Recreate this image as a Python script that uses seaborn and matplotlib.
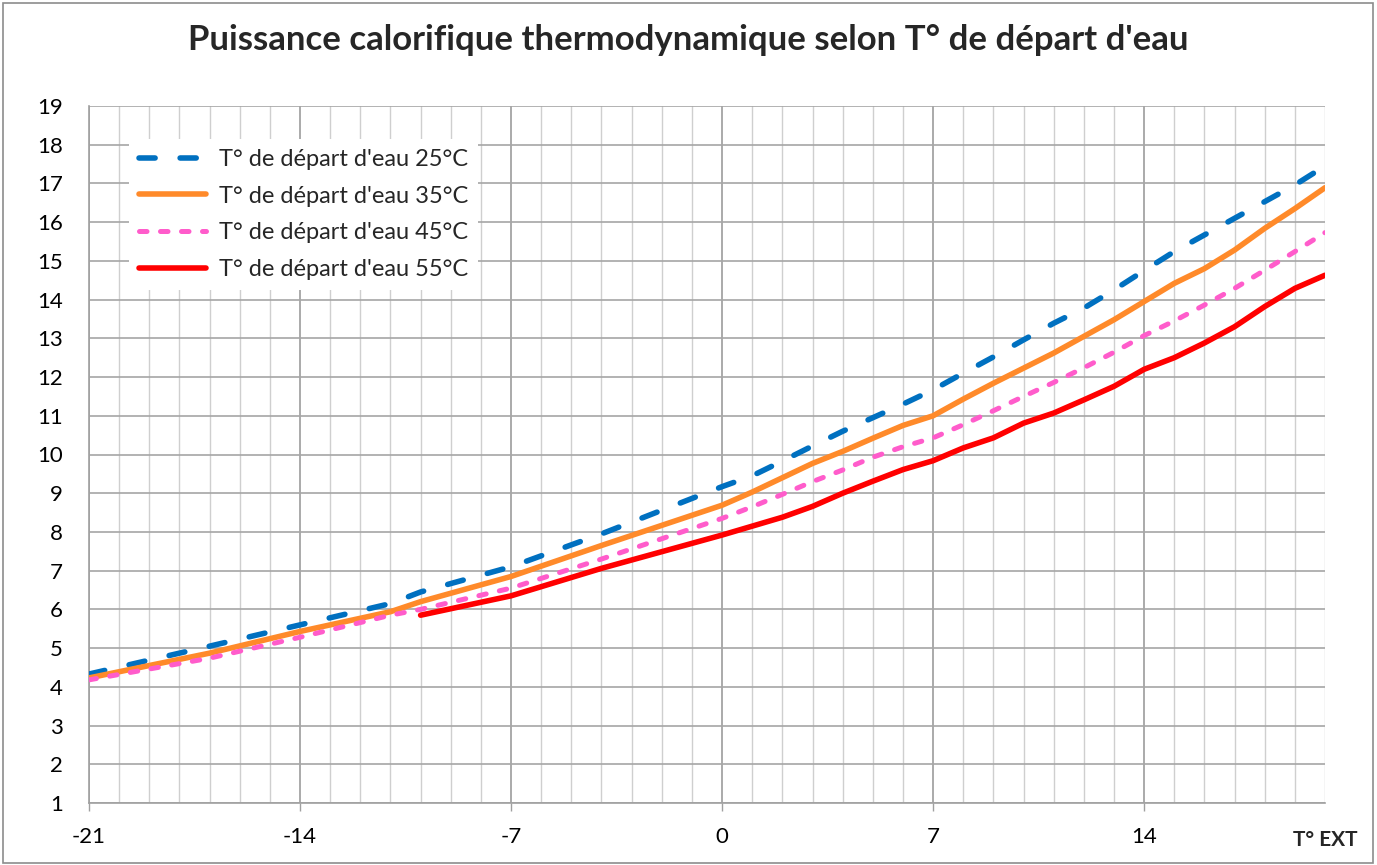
import seaborn as sns
import matplotlib.pyplot as plt
from matplotlib.patches import Rectangle
from matplotlib.ticker import MultipleLocator, FixedLocator

# data (T° ext -> puissance kW)
t_ext = [-21, -17, -14, -11, -10, -7, -4, 0, 1, 2, 3, 4, 5, 6, 7, 8, 9, 10,
         11, 12, 13, 14, 15, 16, 17, 18, 19, 20]
p_25 = [4.33, 5.05, 5.6, 6.15, 6.45, 7.1, 7.95, 9.17, 9.45, 9.83, 10.22, 10.6, 10.95, 11.3,
        11.67, 12.1, 12.52, 12.96, 13.39, 13.78, 14.25, 14.75, 15.24, 15.67, 16.1, 16.53, 16.96, 17.45]
p_35 = [4.23, 4.87, 5.43, 5.94, 6.2, 6.85, 7.65, 8.69, 9.03, 9.4, 9.77, 10.08, 10.42, 10.75,
        11.0, 11.43, 11.84, 12.23, 12.62, 13.05, 13.48, 13.95, 14.42, 14.8, 15.28, 15.84, 16.35, 16.89]
p_45 = [4.18, 4.74, 5.28, 5.85, 6.0, 6.55, 7.3, 8.35, 8.65, 8.97, 9.3, 9.6, 9.93, 10.2,
        10.43, 10.77, 11.13, 11.5, 11.86, 12.24, 12.64, 13.07, 13.45, 13.86, 14.29, 14.76, 15.24, 15.73]
t_ext_55 = [-10, -7, -4, 0, 1, 2, 3, 4, 5, 6, 7, 8, 9, 10, 11, 12, 13, 14, 15, 16, 17, 18, 19, 20]
p_55 = [5.85, 6.35, 7.06, 7.92, 8.15, 8.38, 8.66, 9.0, 9.31, 9.61, 9.84, 10.17, 10.43, 10.81,
        11.07, 11.41, 11.76, 12.2, 12.5, 12.88, 13.3, 13.82, 14.29, 14.63]

labels = ["T° de départ d'eau 25°C", "T° de départ d'eau 35°C",
          "T° de départ d'eau 45°C", "T° de départ d'eau 55°C"]

sns.set_style('white')
plt.rcParams['font.family'] = ['Lato', 'DejaVu Sans']
plt.rcParams['axes.unicode_minus'] = False

fig = plt.figure(figsize=(13.77, 8.65), dpi=100)
ax = fig.add_axes([89/1377, 1 - 803/865, (1325-89)/1377, (803-106)/865])

sns.lineplot(x=t_ext, y=p_25, ax=ax, color='#0070C0', lw=4.0,
             linestyle=(0, (2.9, 4.5)), dash_capstyle='round', label=labels[0], zorder=3)
sns.lineplot(x=t_ext, y=p_35, ax=ax, color='#FF8A2A', lw=4.0,
             solid_capstyle='round', label=labels[1], zorder=3)
sns.lineplot(x=t_ext, y=p_45, ax=ax, color='#FF5CCB', lw=3.6,
             linestyle=(0, (1.5, 2.7)), dash_capstyle='round', label=labels[2], zorder=3)
sns.lineplot(x=t_ext_55, y=p_55, ax=ax, color='#FF0000', lw=4.0,
             solid_capstyle='round', label=labels[3], zorder=3)

ax.set_xlim(-21, 20)
ax.set_ylim(1, 19)
ax.xaxis.set_major_locator(FixedLocator([-21, -14, -7, 0, 7, 14]))
ax.xaxis.set_minor_locator(MultipleLocator(1))
ax.yaxis.set_major_locator(MultipleLocator(1))

ax.grid(which='major', axis='y', color='#A6A6A6', lw=1.2, zorder=0)
ax.grid(which='major', axis='x', color='#9C9C9C', lw=1.2, zorder=0)
ax.grid(which='minor', axis='x', color='#CFCFCF', lw=1.0, zorder=0)
ax.set_axisbelow(True)

for s in ['top', 'right']:
    ax.spines[s].set_visible(False)
for s in ['left', 'bottom']:
    ax.spines[s].set_color('#A0A0A0')
    ax.spines[s].set_linewidth(1.2)

ax.tick_params(axis='x', which='major', length=6, width=1, color='#A0A0A0',
               pad=11, labelsize=16, labelcolor='black', direction='out', bottom=True)
ax.tick_params(axis='x', which='minor', length=0)
ax.tick_params(axis='y', length=0, pad=19, labelsize=16, labelcolor='black')
ax.set_xlabel('')
ax.set_ylabel('')

ax.text(1.0, -0.053, 'T° EXT', transform=ax.transAxes, ha='center', va='center',
        fontsize=15, fontweight='bold')

fig.text(0.5, 1 - 40/865, "Puissance calorifique thermodynamique selon T° de départ d'eau",
         ha='center', va='center', fontsize=25, fontweight='bold')

leg = ax.legend(loc='upper left', bbox_to_anchor=(0.023, 0.969), fontsize=17,
                frameon=True, fancybox=False, framealpha=1, facecolor='white',
                edgecolor='none', handlelength=2.85, handletextpad=0.55,
                labelspacing=0.67, borderpad=0.4)
leg.set_zorder(5)

fig.patches.append(Rectangle((0.002, 0.002), 0.995, 0.995, transform=fig.transFigure,
                             fill=False, edgecolor='#8C8C8C', lw=1.2))

fig.savefig('out.png', dpi=100)
